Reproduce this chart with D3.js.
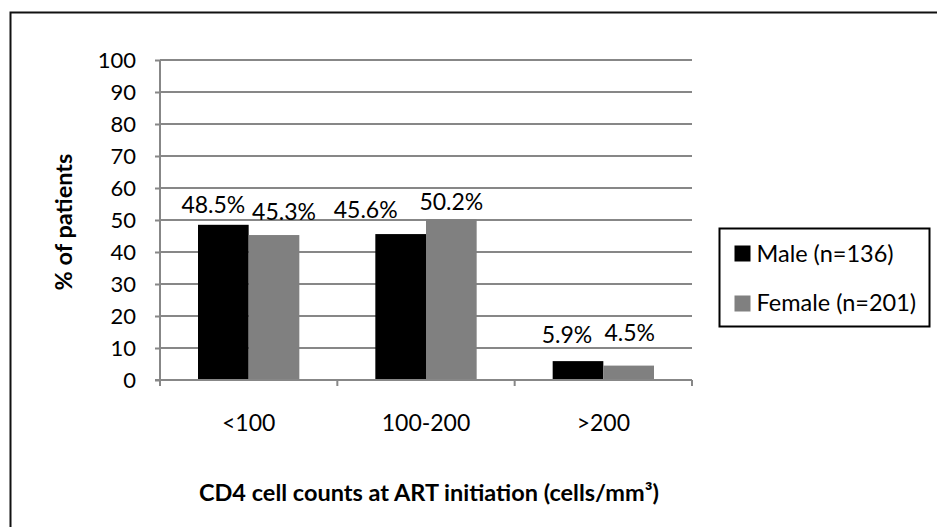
<!DOCTYPE html>
<html>
<head>
<meta charset="utf-8">
<script src="https://cdn.jsdelivr.net/npm/d3@7/dist/d3.min.js"></script>
<style>
  html, body { margin: 0; padding: 0; background: #fff; }
  svg { display: block; font-family: Lato, "Open Sans", sans-serif; }
</style>
</head>
<body>
<svg id="chart" width="937" height="527"></svg>
<script>
// CD4 count groups at ART initiation
const categories = ["<100", "100-200", ">200"];
const seriesNames = ["Male (n=136)", "Female (n=201)"];
const maleValues = [48.5, 45.6, 5.9];
const femaleValues = [45.3, 50.2, 4.5];
const yTicks = [0, 10, 20, 30, 40, 50, 60, 70, 80, 90, 100];

const colors = ["#000000", "#808080"];
const series = [maleValues, femaleValues];

const svg = d3.select("#chart");
const W = 937, H = 527;
const margin = { left: 160, right: 245, top: 60, bottom: 147 };
const plotW = W - margin.left - margin.right;
const plotH = H - margin.top - margin.bottom;

// outer chart frame (extends past the right and bottom edges)
svg.append("rect")
  .attr("x", 10.5).attr("y", 12.5)
  .attr("width", 940).attr("height", 530)
  .attr("fill", "none").attr("stroke", "#111").attr("stroke-width", 2);

const g = svg.append("g").attr("transform", `translate(${margin.left},${margin.top})`);

const x0 = d3.scaleBand().domain(categories).range([0, plotW]).paddingInner(0).paddingOuter(0);
// two bars per group with a 150% gap between groups
const barW = x0.bandwidth() / 3.5;
const x1 = d3.scaleBand().domain(d3.range(series.length)).range([0, barW * 2]);
const y = d3.scaleLinear().domain([0, 100]).range([plotH, 0]);

// horizontal gridlines
g.append("g").selectAll("line").data(yTicks.filter(t => t > 0)).join("line")
  .attr("x1", 0).attr("x2", plotW)
  .attr("y1", d => y(d)).attr("y2", d => y(d))
  .attr("stroke", "#878787").attr("stroke-width", 2);

// y axis
const yAxis = g.append("g").call(d3.axisLeft(y).tickValues(yTicks).tickSize(5).tickPadding(19));
yAxis.select(".domain").attr("stroke", "#878787").attr("stroke-width", 2).attr("d", `M0,0V${plotH}`);
yAxis.selectAll(".tick line").attr("stroke", "#878787").attr("stroke-width", 2);
yAxis.selectAll(".tick text").attr("font-size", 22).attr("fill", "#000")
  .attr("font-family", "Lato, sans-serif").attr("dy", "0.36em");

// bars
const groups = g.append("g").selectAll("g").data(categories).join("g")
  .attr("transform", d => `translate(${x0(d) + (x0.bandwidth() - barW * 2) / 2},0)`);
groups.selectAll("rect")
  .data((c, ci) => series.map((s, si) => ({ si, v: s[ci] })))
  .join("rect")
  .attr("x", d => x1(d.si)).attr("width", x1.bandwidth())
  .attr("y", d => y(d.v)).attr("height", d => plotH - y(d.v))
  .attr("fill", d => colors[d.si]);

// x axis
const xAxis = g.append("g").attr("transform", `translate(0,${plotH})`)
  .call(d3.axisBottom(x0).tickSize(0).tickPadding(35));
xAxis.select(".domain").attr("stroke", "#878787").attr("stroke-width", 2).attr("d", `M-5,0H${plotW}`);
xAxis.selectAll(".tick text").attr("font-size", 23).attr("fill", "#000").attr("font-family", "Lato, sans-serif");
// category boundary ticks
g.append("g").selectAll("line").data(d3.range(categories.length + 1)).join("line")
  .attr("x1", i => i * x0.bandwidth()).attr("x2", i => i * x0.bandwidth())
  .attr("y1", plotH).attr("y2", plotH + 6)
  .attr("stroke", "#878787").attr("stroke-width", 2);

// value labels, nudged apart so neighbouring labels stay readable
const labelNudge = [
  [[-10, -12], [10, -15]],
  [[-35, -16], [0, -9.5]],
  [[-11, -18], [1, -25]]
];
categories.forEach((c, ci) => {
  series.forEach((s, si) => {
    const cx = x0(c) + (x0.bandwidth() - barW * 2) / 2 + x1(si) + x1.bandwidth() / 2;
    const [dx, dy] = labelNudge[ci][si];
    g.append("text")
      .attr("x", cx + dx).attr("y", y(s[ci]) + dy)
      .attr("text-anchor", "middle").attr("font-size", 23).attr("fill", "#000")
      .text(s[ci].toFixed(1) + "%");
  });
});

// axis titles
svg.append("text")
  .attr("x", margin.left + plotW / 2 + 3).attr("y", 501)
  .attr("text-anchor", "middle").attr("font-size", 23.5).attr("font-weight", "bold")
  .text("CD4 cell counts at ART initiation (cells/mm³)");
svg.append("text")
  .attr("transform", "translate(72,222) rotate(-90)")
  .attr("text-anchor", "middle").attr("font-size", 23.5).attr("font-weight", "bold")
  .text("% of patients");

// legend
const lg = svg.append("g").attr("transform", "translate(719.5,228.5)");
lg.append("rect").attr("width", 210).attr("height", 98)
  .attr("fill", "#fff").attr("stroke", "#000").attr("stroke-width", 2);
seriesNames.forEach((name, i) => {
  lg.append("rect").attr("x", 15).attr("y", 17 + i * 50).attr("width", 16).attr("height", 16)
    .attr("fill", colors[i]);
  lg.append("text").attr("x", 37).attr("y", 33 + i * 49.5)
    .attr("font-size", 23.5).attr("fill", "#000").text(name);
});
</script>
</body>
</html>
